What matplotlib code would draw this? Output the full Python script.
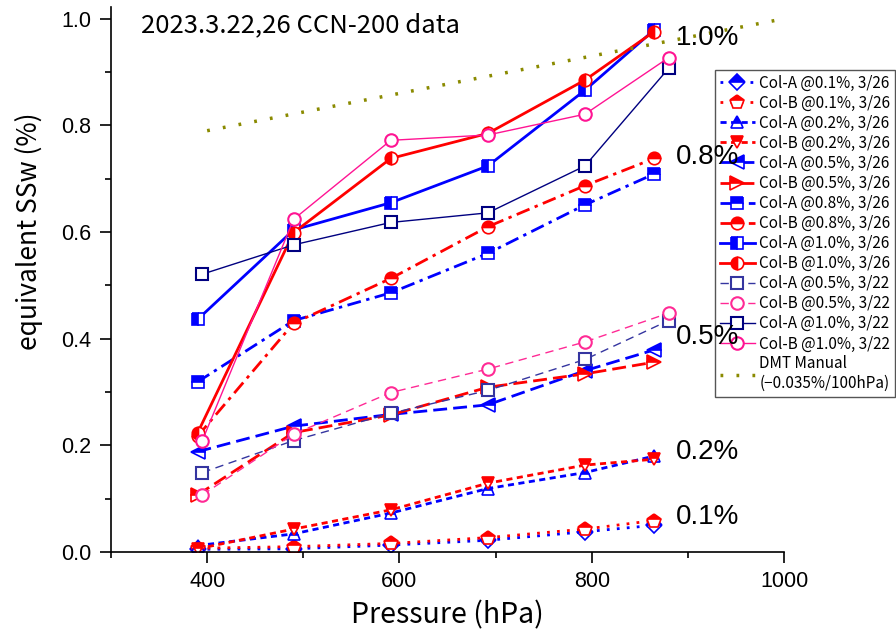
import matplotlib
matplotlib.use('Agg')
import matplotlib.pyplot as plt
from matplotlib.ticker import MultipleLocator

# ---------------- data ----------------
p26 = [390, 490, 591, 692, 793, 865]
p22 = [395, 490, 591, 692, 793, 880]

colA_01_26 = [0.005, 0.006, 0.013, 0.022, 0.038, 0.050]
colB_01_26 = [0.007, 0.010, 0.016, 0.027, 0.043, 0.059]
colA_02_26 = [0.012, 0.034, 0.073, 0.119, 0.149, 0.180]
colB_02_26 = [0.006, 0.043, 0.079, 0.129, 0.163, 0.174]
colA_05_26 = [0.188, 0.236, 0.258, 0.276, 0.340, 0.379]
colB_05_26 = [0.107, 0.224, 0.257, 0.309, 0.334, 0.356]
colA_08_26 = [0.319, 0.434, 0.486, 0.560, 0.651, 0.709]
colB_08_26 = [0.217, 0.429, 0.513, 0.610, 0.687, 0.738]
colA_10_26 = [0.436, 0.604, 0.655, 0.724, 0.866, 0.979]
colB_10_26 = [0.223, 0.599, 0.738, 0.785, 0.885, 0.976]
colA_05_22 = [0.149, 0.209, 0.260, 0.303, 0.361, 0.434]
colB_05_22 = [0.107, 0.221, 0.299, 0.343, 0.394, 0.448]
colA_10_22 = [0.521, 0.576, 0.618, 0.636, 0.724, 0.907]
colB_10_22 = [0.209, 0.624, 0.772, 0.782, 0.821, 0.927]
dmt_p = [400, 1000]
dmt_v = [0.79, 1.0]

labels = ["Col-A @0.1%, 3/26", "Col-B @0.1%, 3/26",
          "Col-A @0.2%, 3/26", "Col-B @0.2%, 3/26",
          "Col-A @0.5%, 3/26", "Col-B @0.5%, 3/26",
          "Col-A @0.8%, 3/26", "Col-B @0.8%, 3/26",
          "Col-A @1.0%, 3/26", "Col-B @1.0%, 3/26",
          "Col-A @0.5%, 3/22", "Col-B @0.5%, 3/22",
          "Col-A @1.0%, 3/22", "Col-B @1.0%, 3/22",
          "DMT Manual\n(\u22120.035%/100hPa)"]
ss_labels = ["1.0%", "0.8%", "0.5%", "0.2%", "0.1%"]
ss_label_y = [0.964, 0.741, 0.403, 0.188, 0.066]

JP = ['Noto Sans CJK JP', 'DejaVu Sans']
AR = ['Liberation Sans', 'DejaVu Sans']

fig = plt.figure(figsize=(8.96, 6.37), dpi=100)
ax = fig.add_axes([111/896, 1-552/637, (784-111)/896, (552-7)/637])

BLUE = '#0000FF'
RED = '#FF0000'
NAVY = '#000080'
SLATE = '#3535A0'
PINK = '#FF2A95'
PINK2 = '#FF1493'
OLIVE = '#8A8A00'

mew = 1.2
dot = (0, (1, 2.6))
short = (0, (2.2, 1.6))
longd = (0, (5, 2.2))
dashdot = (0, (5, 2, 1.2, 2))

series = [
    (p26, colA_01_26, BLUE, 'D', 'top', dot, 2.0, 8),
    (p26, colB_01_26, RED, 'p', 'top', dot, 2.0, 10),
    (p26, colA_02_26, BLUE, '^', 'top', short, 2.0, 9),
    (p26, colB_02_26, RED, 'v', 'top', short, 2.0, 9),
    (p26, colA_05_26, BLUE, '<', 'top', longd, 2.0, 10),
    (p26, colB_05_26, RED, '>', 'top', longd, 2.0, 10),
    (p26, colA_08_26, BLUE, 's', 'top', dashdot, 2.0, 8),
    (p26, colB_08_26, RED, 'o', 'top', dashdot, 2.0, 9),
    (p26, colA_10_26, BLUE, 's', 'left', '-', 2.0, 8),
    (p26, colB_10_26, RED, 'o', 'left', '-', 2.0, 9),
]
handles = []
for (px, vals, c, mk, fs, ls, lw, m) in series:
    h, = ax.plot(px, vals, color=c, marker=mk, fillstyle=fs,
                 markerfacecolor=c, markerfacecoloralt='white',
                 markeredgecolor=c, markersize=m, markeredgewidth=mew,
                 linestyle=ls, linewidth=lw)
    handles.append(h)

open_series = [
    (p22, colA_05_22, SLATE, 's', (0, (6, 4)), 1.0, 8),
    (p22, colB_05_22, PINK, 'o', (0, (6, 4)), 1.0, 9),
    (p22, colA_10_22, NAVY, 's', '-', 1.0, 8),
    (p22, colB_10_22, PINK2, 'o', '-', 1.0, 9),
]
for (px, vals, c, mk, ls, lw, m) in open_series:
    h, = ax.plot(px, vals, color=c, marker=mk, markerfacecolor='white',
                 markeredgecolor=c, markersize=m, markeredgewidth=1.5,
                 linestyle=ls, linewidth=lw)
    handles.append(h)

h, = ax.plot(dmt_p, dmt_v, color=OLIVE, linestyle=(0, (0.8, 3.8)),
             linewidth=2.5)
handles.append(h)

ax.set_xlim(300, 1000)
ax.set_ylim(0, 1.022)
ax.xaxis.set_major_locator(MultipleLocator(200))
ax.xaxis.set_minor_locator(MultipleLocator(100))
ax.yaxis.set_major_locator(MultipleLocator(0.2))
ax.yaxis.set_minor_locator(MultipleLocator(0.1))
ax.spines['top'].set_visible(False)
ax.spines['right'].set_visible(False)
for s in ('left', 'bottom'):
    ax.spines[s].set_linewidth(1.2)
ax.tick_params(which='major', direction='out', length=8, width=1.2,
               labelsize=15.5, pad=6)
ax.tick_params(which='minor', direction='out', length=4, width=1.2)
ax.set_yticks([0.0, 0.2, 0.4, 0.6, 0.8, 1.0])
ax.set_yticklabels(['0.0', '0.2', '0.4', '0.6', '0.8', '1.0'])
for t in ax.get_xticklabels() + ax.get_yticklabels():
    t.set_family(AR)

ax.set_xlabel('Pressure (hPa)', family=JP, fontsize=20.5, labelpad=6)
ax.set_ylabel('equivalent SSw (%)', family=JP, fontsize=19)
ax.yaxis.set_label_coords(-0.101, 0.589)

ax.text(0.045, 0.99, '2023.3.22,26 CCN-200 data', transform=ax.transAxes,
        family=JP, fontsize=18.5, ha='left', va='top')

for lab, yv in zip(ss_labels, ss_label_y):
    ax.text(888, yv, lab, family=AR, fontsize=20, ha='left', va='center',
            clip_on=False, zorder=10)

leg = ax.legend(handles, labels, loc='upper left',
                bbox_to_anchor=(715/896, 1-70/637),
                bbox_transform=fig.transFigure, borderaxespad=0,
                prop={'family': JP, 'size': 11}, frameon=True,
                fancybox=False, edgecolor='#555555', framealpha=1,
                handlelength=2.3, handletextpad=0.3, labelspacing=0.2,
                borderpad=0.3)
leg.get_frame().set_linewidth(1.0)
leg.set_zorder(5)

fig.savefig('out.png', dpi=100)
